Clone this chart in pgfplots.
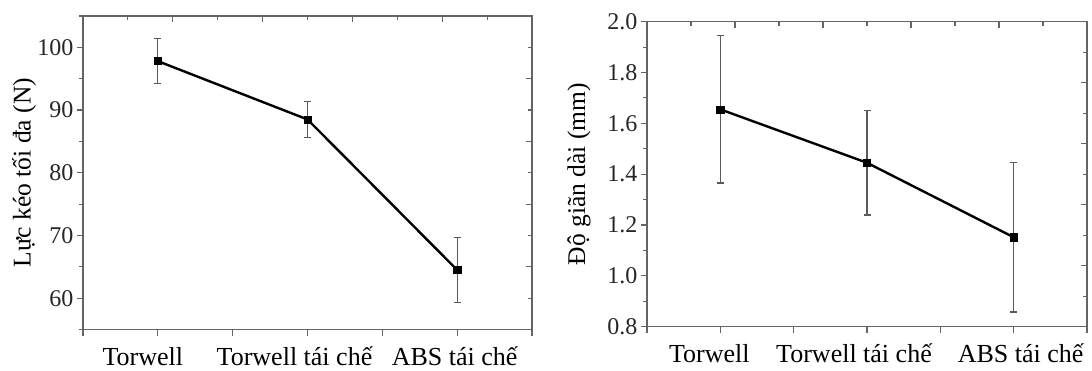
\documentclass[border=0pt]{standalone}
\usepackage{fontspec}
\setmainfont{Liberation Serif}
\usepackage{pgfplots}
\usepackage{pgfplotstable}
\pgfplotsset{compat=1.18}
\definecolor{axgray}{RGB}{100,100,100}
\definecolor{errgray}{RGB}{90,90,90}

\pgfplotstableread{
x y e
1 97.8 3.6
2 88.5 2.9
3 64.5 5.2
}\tableA
\pgfplotstableread{
x y e
1 1.655 0.290
2 1.445 0.205
3 1.152 0.294
}\tableB

\newcommand{\gap}[1]{\rule{#1}{0pt}}

\pgfplotsset{
  base/.style={
    scale only axis,
    anchor=south west,
    axis line style={axgray, line width=1.3pt},
    every tick/.style={axgray, line width=1.1pt},
    tick align=outside,
    tick pos=left,
    major tick length=6pt,
    minor tick length=4pt,
    xmin=0.5, xmax=3.5,
    xtick={0.5,1,1.5,2,2.5,3,3.5},
    xticklabel style={font=\fontsize{26}{28}\selectfont, text=black, text height=24pt, text depth=0pt, inner ysep=1pt, yshift=-4.3pt},
    yticklabel style={font=\fontsize{24}{26}\selectfont, text=black!85},
    ylabel style={font=\fontsize{25.5}{27}\selectfont, anchor=center},
    /pgf/number format/assume math mode=true,
  },
  over/.style={
    scale only axis,
    anchor=south west,
    xmin=0, xmax=10, ymin=0, ymax=10,
    axis x line*=top, axis y line*=right,
    axis line style={draw=none},
    every tick/.style={axgray, line width=1.1pt},
    tick align=inside,
    major tick length=6pt,
    minor tick length=4pt,
    xtick={0,2,...,10}, minor xtick={1,3,...,9},
    ytick={0,2,...,10}, minor ytick={1,3,...,9},
    xticklabels={}, yticklabels={},
  },
  dat/.style={
    black, line width=2.4pt, mark=square*, mark size=3.6pt,
    mark options={solid, fill=black, line width=0.5pt},
    error bars/.cd, y dir=both, y explicit,
    error bar style={errgray, line width=1.3pt},
    error mark options={errgray, rotate=90, mark size=3.5pt, line width=1.3pt},
  },
}

\begin{document}
\begin{tikzpicture}
% Left panel
\begin{axis}[base,
  at={(83pt,40.5pt)}, width=449pt, height=313.5pt,
  ymin=55, ymax=105,
  ytick={60,70,...,100}, minor ytick={55,65,...,105},
  xticklabels={,Torwell\gap{30pt},,Torwell tái chế\gap{26pt},,ABS tái chế\gap{5pt},},
  ylabel={Lực kéo tối đa (N)},
  ylabel style={at={(axis description cs:-0.131,0.5)}},
]
\addplot+[dat] table[x=x, y=y, y error=e] {\tableA};
\end{axis}
\begin{axis}[over, at={(83pt,40.5pt)}, width=449pt, height=313.5pt]
\end{axis}

% Right panel
\begin{axis}[base,
  at={(647pt,43.3pt)}, width=440pt, height=305pt,
  ymin=0.8, ymax=2.0,
  ytick={0.8,1.0,...,2.01}, minor ytick={0.9,1.1,...,1.95},
  yticklabel style={/pgf/number format/.cd, fixed, fixed zerofill, precision=1},
  xticklabels={,Torwell\gap{22pt},,Torwell tái chế\gap{26pt},,\gap{14pt}ABS tái chế,},
  ylabel={Độ giãn dài (mm)},
  ylabel style={at={(axis description cs:-0.1545,0.5)}},
]
\addplot+[dat] table[x=x, y=y, y error=e] {\tableB};
\end{axis}
\begin{axis}[over, at={(647pt,43.3pt)}, width=440pt, height=305pt]
\end{axis}

\pgfresetboundingbox
\path (0,0) rectangle (1092pt,370pt);
\end{tikzpicture}
\end{document}
